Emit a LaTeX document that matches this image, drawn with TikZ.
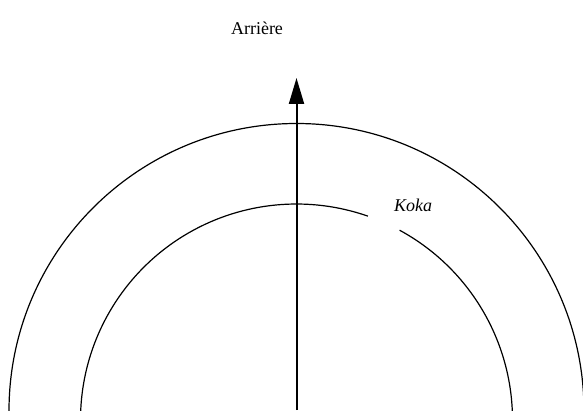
\documentclass[tikz,border=0pt]{standalone}
\usepackage{fontspec}
\setmainfont{Liberation Serif}
\usetikzlibrary{arrows.meta}
\tikzset{
  ring/.style={black,line width=1.2pt},
  axis/.style={-{Triangle[length=26pt,width=15pt]},line width=2pt},
  lab/.style={font=\fontsize{18}{21}\selectfont,inner sep=0pt},
  zone/.style={font=\fontsize{18}{21}\selectfont\itshape,inner sep=0pt},
}
\begin{document}
\begin{tikzpicture}[x=1pt,y=1pt]
  \useasboundingbox (0,0) rectangle (583,410);
  \clip (0,0) rectangle (583,410);

  % the two rings
  \draw[ring] (296.5,-1) ++(180:287.5) arc[start angle=180,end angle=0,radius=287.5];
  \draw[ring] (296.5,-10) ++(180:216) arc[start angle=180,end angle=70.7,radius=216];
  \draw[ring] (296.5,-10) ++(61.5:216) arc[start angle=61.5,end angle=0,radius=216];

  % direction
  \coordinate (base) at (296.5,0);
  \coordinate (tip) at (296.5,332);
  \draw[axis] (base) -- (tip);

  \node[lab] (back) at (257,382) {Arrière};
  \node[zone] (koka) at (413,205) {Koka};
\end{tikzpicture}
\end{document}
